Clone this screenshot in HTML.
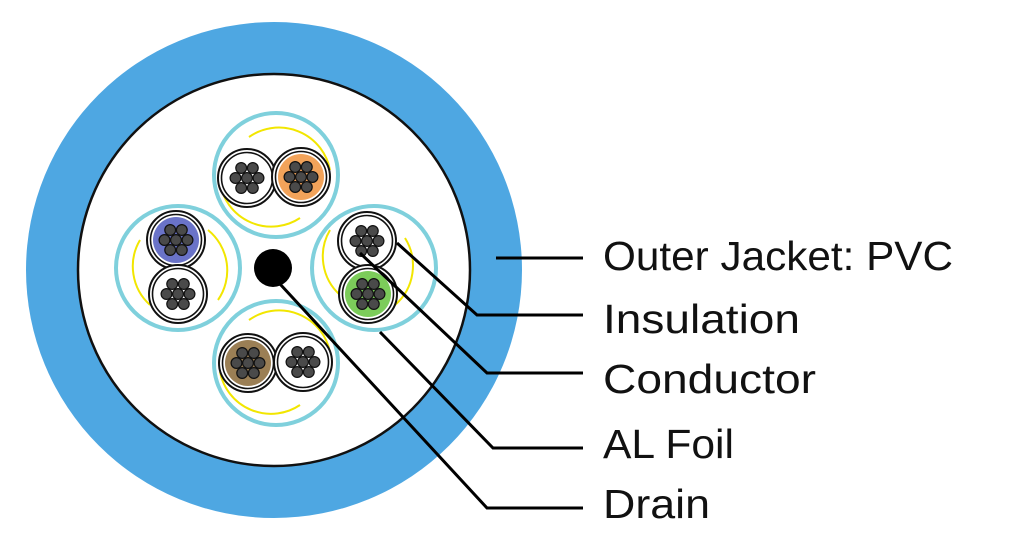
<!DOCTYPE html>
<html><head><meta charset="utf-8"><style>html,body{margin:0;padding:0;background:#fff}svg{display:block}</style></head>
<body>
<svg width="1024" height="546" viewBox="0 0 1024 546" xmlns="http://www.w3.org/2000/svg">
<defs>
  <g id="strands" fill="#4a4a4a" stroke="#111" stroke-width="1.2">
    <circle cx="0" cy="0" r="5.4"/>
    <circle cx="11.5" cy="0" r="5.4"/>
    <circle cx="-11.5" cy="0" r="5.4"/>
    <circle cx="5.8" cy="10" r="5.4"/>
    <circle cx="-5.8" cy="10" r="5.4"/>
    <circle cx="5.8" cy="-10" r="5.4"/>
    <circle cx="-5.8" cy="-10" r="5.4"/>
  </g>
  <g id="ring">
    <circle r="29" fill="#fff" stroke="#111" stroke-width="2"/>
    <circle r="25.5" fill="none" stroke="#111" stroke-width="1.6"/>
  </g>
</defs>
<rect width="1024" height="546" fill="#fff"/>
<circle cx="274" cy="270" r="248" fill="#4ea7e2"/>
<circle cx="274" cy="270" r="196" fill="#fff" stroke="#111" stroke-width="2.5"/>

<g fill="none" stroke="#7fd0dc" stroke-width="4">
  <circle cx="276" cy="175" r="62"/>
  <circle cx="178" cy="268" r="62"/>
  <circle cx="374" cy="268" r="62"/>
  <circle cx="276" cy="363" r="62"/>
</g>
<g fill="none" stroke="#f2e600" stroke-width="2">
  <path d="M249 137 A52 52 0 0 1 330 170"/>
  <path d="M220 183 A52 52 0 0 0 300 218"/>
  <path d="M208 230 A52 52 0 0 1 218 300"/>
  <path d="M140 240 A52 52 0 0 0 150 305"/>
  <path d="M330 230 A52 52 0 0 0 340 295"/>
  <path d="M405 238 A52 52 0 0 1 395 305"/>
  <path d="M249 320 A52 52 0 0 1 330 352"/>
  <path d="M220 372 A52 52 0 0 0 300 405"/>
</g>

<use href="#ring" x="247" y="178"/><circle cx="247" cy="178" r="23" fill="#fff"/><use href="#strands" x="247" y="178"/>
<use href="#ring" x="301" y="177"/><circle cx="301" cy="177" r="23" fill="#f2a35a"/><use href="#strands" x="301" y="177"/>
<use href="#ring" x="176" y="240"/><circle cx="176" cy="240" r="23" fill="#6a73c8"/><use href="#strands" x="176" y="240"/>
<use href="#ring" x="178" y="294"/><circle cx="178" cy="294" r="23" fill="#fff"/><use href="#strands" x="178" y="294"/>
<use href="#ring" x="367" y="241"/><circle cx="367" cy="241" r="23" fill="#fff"/><use href="#strands" x="367" y="241"/>
<use href="#ring" x="368" y="294"/><circle cx="368" cy="294" r="23" fill="#7ccc5a"/><use href="#strands" x="368" y="294"/>
<use href="#ring" x="248" y="363"/><circle cx="248" cy="363" r="23" fill="#9b7f55"/><use href="#strands" x="248" y="363"/>
<use href="#ring" x="303" y="362"/><circle cx="303" cy="362" r="23" fill="#fff"/><use href="#strands" x="303" y="362"/>

<circle cx="273" cy="268" r="19" fill="#000"/>

<g fill="none" stroke="#000" stroke-width="3">
  <path d="M496 258 H583"/>
  <path d="M397 243 L477 315 H583"/>
  <path d="M360 253 L487 373 H583"/>
  <path d="M380 332 L493 448 H583"/>
  <path d="M280 284 L487 508 H583"/>
</g>

<g font-family="'Liberation Sans', sans-serif" font-size="41" fill="#111">
  <text x="603" y="270" textLength="350" lengthAdjust="spacingAndGlyphs">Outer Jacket: PVC</text>
  <text x="603" y="333" textLength="197" lengthAdjust="spacingAndGlyphs">Insulation</text>
  <text x="603" y="393" textLength="213" lengthAdjust="spacingAndGlyphs">Conductor</text>
  <text x="603" y="458" textLength="131" lengthAdjust="spacingAndGlyphs">AL Foil</text>
  <text x="603" y="518" textLength="107" lengthAdjust="spacingAndGlyphs">Drain</text>
</g>
</svg>
</body></html>
